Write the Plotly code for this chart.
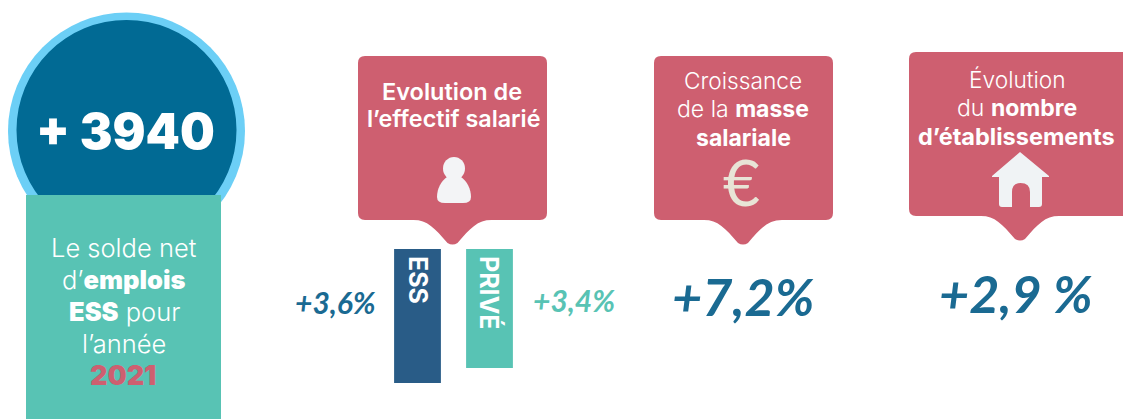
import plotly.graph_objects as go

# Data
bar_categories = ["ESS", "PRIVÉ"]
bar_values = [3.6, 3.4]
bar_colors = ["#295c87", "#58c3b4"]
bar_labels = ["+3,6%", "+3,4%"]
solde_net = "+ 3940"
masse_salariale = "+7,2%"
etablissements = "+2,9 %"

PINK = "#ce5f70"
TEAL = "#58c3b4"
BLUE = "#1a6a92"
W, H = 1123, 419


def callout(x0, x1, y0, y1, tip_x, tip_y, r=7):
    s = 27
    return (
        f"M{x0+r},{y0} L{x1-r},{y0} Q{x1},{y0} {x1},{y0+r} L{x1},{y1-r} Q{x1},{y1} {x1-r},{y1} "
        f"L{tip_x+s+12},{y1} C{tip_x+s-2},{y1} {tip_x+18},{y1+8} {tip_x+5},{tip_y-2} "
        f"Q{tip_x},{tip_y+1} {tip_x-5},{tip_y-2} "
        f"C{tip_x-18},{y1+8} {tip_x-s+2},{y1} {tip_x-s-12},{y1} "
        f"L{x0+r},{y1} Q{x0},{y1} {x0},{y1-r} L{x0},{y0+r} Q{x0},{y0} {x0+r},{y0} Z"
    )


shapes = [
    dict(type="circle", x0=8, x1=245, y0=12.5, y1=249.5, fillcolor="#6ccff6", line_width=0, layer="below"),
    dict(type="circle", x0=16.5, x1=236.5, y0=20, y1=240, fillcolor="#016a94", line_width=0, layer="below"),
    dict(type="rect", x0=26, x1=221, y0=195, y1=419, fillcolor=TEAL, line_width=0, layer="below"),
    dict(type="path", path=callout(358, 547, 56, 220, 452.5, 245), fillcolor=PINK, line_width=0, layer="below"),
    dict(type="path", path=callout(654, 833, 56, 220, 743, 245), fillcolor=PINK, line_width=0, layer="below"),
    dict(type="path", path=callout(909, 1135, 52, 216, 1020, 241), fillcolor=PINK, line_width=0, layer="below"),
    # person icon
    dict(type="circle", x0=443, x1=465, y0=157, y1=180, fillcolor="#f3f4f6", line_width=0, layer="below"),
    dict(type="path", path="M447,177 C441,181 437,189 437,197 Q437,203 445,203 L463,203 Q471,203 471,197 C471,189 467,181 461,177 Z",
         fillcolor="#f3f4f6", line_width=0, layer="below"),
    # house icon
    dict(type="path", path="M1020,152 L1049,176 L1049,177 L1042,177 L1042,204 Q1042,207 1039,207 L1030,207 L1030,192 "
                            "Q1030,183 1020.5,183 Q1012,183 1012,192 L1012,207 L1002,207 Q999,207 999,204 L999,177 L992,177 L992,176 Z",
         fillcolor="#f0f3f5", line_width=0, layer="below"),
]


def txt(x, y, text, size, color="white", family="Inter", weight=400, style="normal", angle=0):
    return dict(x=x, y=y, text=text, xref="x", yref="y", showarrow=False, textangle=angle,
                xanchor="center", yanchor="middle",
                font=dict(family=family, size=size, color=color, weight=weight, style=style))


HAND = "Lato"
HEAVY = '<span style="font-weight:900">%s</span>'
euro = txt(741, 181, "€", 64, color="#e8e4d6", family="Lato", weight=400)
euro["height"] = 56
annotations = [
    txt(125.5, 131, solde_net, 49, weight=900),
    txt(124, 247, "Le solde net", 25.5, weight=300),
    txt(124, 279, "d’" + HEAVY % "emplois", 25.5, weight=300),
    txt(124, 311, HEAVY % "ESS" + " pour", 25.5, weight=300),
    txt(124, 343, "l’année", 25.5, weight=300),
    txt(123, 375, "2021", 27, color=PINK, weight=900),
    txt(452, 91, "Evolution de", 23.5, weight=600),
    txt(453, 118, "l’effectif salarié", 23.3, weight=600),
    txt(743, 80, "Croissance", 22.7, weight=300),
    txt(743, 109, "de la <b>masse</b>", 23, weight=300),
    txt(743, 138, "<b>salariale</b>", 23, weight=300),
    txt(1017, 79, "Évolution", 22.7, weight=300),
    txt(1016.5, 108, "du <b>nombre</b>", 23, weight=300),
    txt(1016.5, 136, "<b>d’établissements</b>", 23.5, weight=300),
    euro,
    txt(418, 280, f"<b>{bar_categories[0]}</b>", 25, angle=90),
    txt(490, 293, f"<b>{bar_categories[1]}</b>", 25, angle=90),
    txt(335, 302, bar_labels[0], 30, color=BLUE, family=HAND, style="italic", weight=700),
    txt(574, 300, bar_labels[1], 30, color=TEAL, family=HAND, style="italic", weight=700),
    txt(743, 296, masse_salariale, 52, color=BLUE, family=HAND, style="italic", weight=700),
    txt(1016, 293, etablissements, 52, color=BLUE, family=HAND, style="italic", weight=700),
]

fig = go.Figure(
    go.Bar(x=bar_categories, y=bar_values, marker=dict(color=bar_colors, line_width=0),
           width=0.65, xaxis="x2", yaxis="y2", hoverinfo="skip")
)
fig.update_layout(
    width=W, height=H, margin=dict(l=0, r=0, t=0, b=0),
    paper_bgcolor="white", plot_bgcolor="white", showlegend=False,
    xaxis=dict(range=[0, W], visible=False, domain=[0, 1]),
    yaxis=dict(range=[H, 0], visible=False, domain=[0, 1]),
    xaxis2=dict(domain=[381.5 / W, 525.5 / W], range=[-0.5, 1.5], visible=False, anchor="y2", type="category"),
    yaxis2=dict(domain=[(H - 383) / H, (H - 249) / H], range=[3.6, 1.813], visible=False, anchor="x2"),
    shapes=shapes, annotations=annotations,
)
fig.add_trace(go.Scatter(x=[0], y=[0], mode="markers", marker=dict(opacity=0), xaxis="x", yaxis="y", hoverinfo="skip"))
fig.write_html("out.html", config=dict(displayModeBar=False, responsive=False),
               post_script="document.body.style.margin='0';document.body.style.overflow='hidden';")
